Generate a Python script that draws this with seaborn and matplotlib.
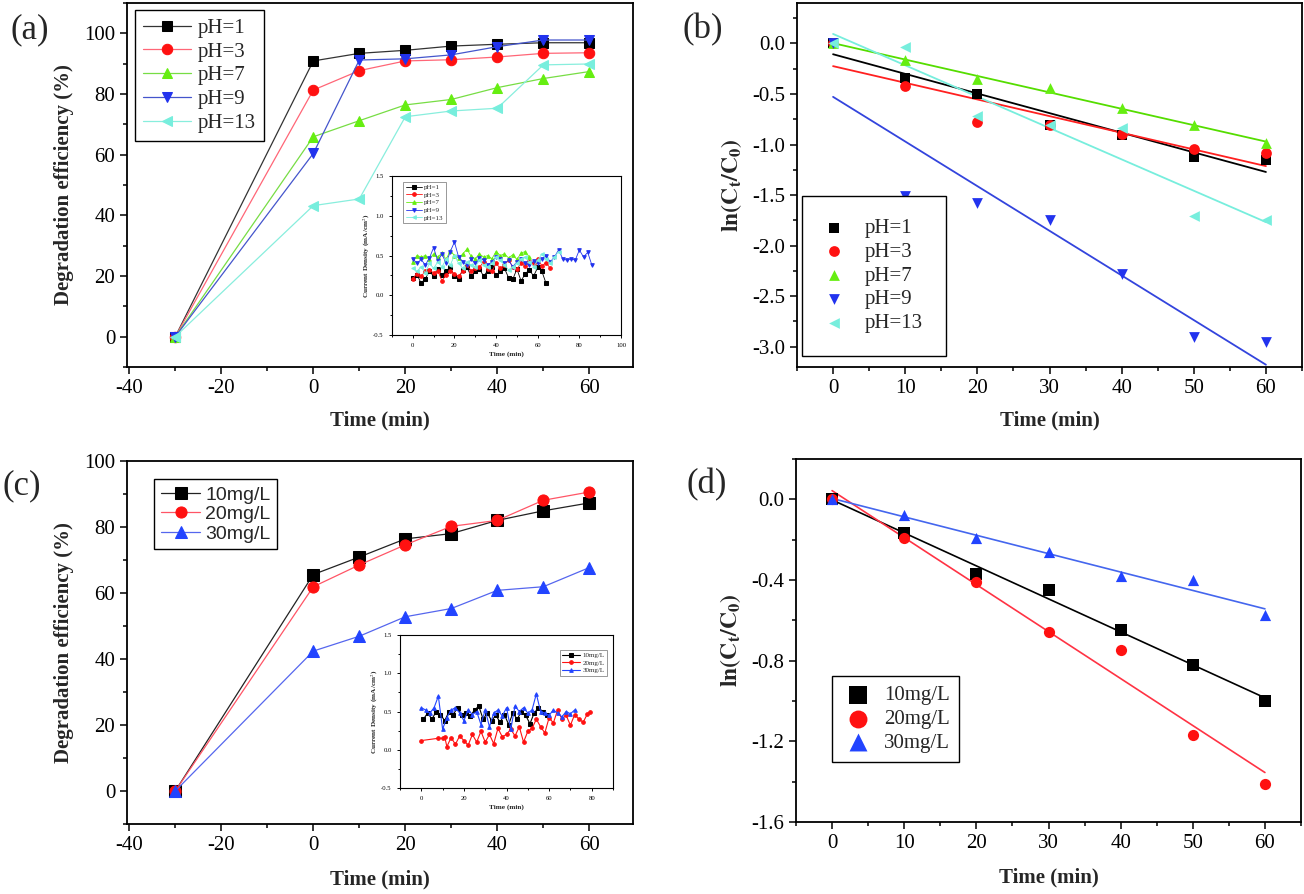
import numpy as np
import matplotlib
matplotlib.use("Agg")
import matplotlib.pyplot as plt
import seaborn as sns
from matplotlib.ticker import MultipleLocator

sns.set_style("ticks")
plt.rcParams["font.family"] = ["Liberation Serif", "DejaVu Serif"]
plt.rcParams["mathtext.fontset"] = "stix"
plt.rcParams["axes.unicode_minus"] = False

# ---- data ----
time_deg = [-30, 0, 10, 20, 30, 40, 50, 60]
time_kin = [0, 10, 20, 30, 40, 50, 60]

ph_labels = ["pH=1", "pH=3", "pH=7", "pH=9", "pH=13"]
deg_ph1 = [0, 90.9, 93.4, 94.4, 95.8, 96.4, 96.9, 96.9]
deg_ph3 = [0, 81.3, 87.7, 90.9, 91.3, 92.2, 93.4, 93.6]
deg_ph7 = [0, 65.9, 71.2, 76.4, 78.2, 82.1, 85.1, 87.4]
deg_ph9 = [0, 60.4, 91.2, 91.6, 92.9, 95.6, 97.8, 97.8]
deg_ph13 = [0, 43.2, 45.4, 72.5, 74.4, 75.3, 89.6, 89.9]

ln_ph1 = [0, -0.337, -0.496, -0.807, -0.91, -1.125, -1.148]
ln_ph3 = [0, -0.42, -0.777, -0.81, -0.90, -1.042, -1.082]
ln_ph7 = [0, -0.162, -0.354, -0.437, -0.635, -0.81, -0.989]
ln_ph9 = [0, -1.505, -1.578, -1.75, -2.28, -2.90, -2.957]
ln_ph13 = [0, -0.04, -0.718, -0.81, -0.834, -1.71, -1.743]

conc_labels = ["10mg/L", "20mg/L", "30mg/L"]
deg_10 = [0, 65.6, 70.9, 76.4, 78.0, 82.0, 84.9, 87.3]
deg_20 = [0, 61.9, 68.5, 74.6, 80.2, 82.0, 88.1, 90.6]
deg_30 = [0, 42.4, 46.9, 52.8, 55.3, 60.8, 61.9, 67.7]

ln_10 = [0, -0.167, -0.37, -0.45, -0.65, -0.82, -0.998]
ln_20 = [0, -0.192, -0.41, -0.66, -0.749, -1.169, -1.41]
ln_30 = [0, -0.08, -0.19, -0.26, -0.38, -0.40, -0.575]

# inset current density (mA/cm2) vs time (min)
cd_t_ph1 = np.arange(0, 65, 2)
cd_ph1 = [0.22, 0.26, 0.15, 0.21, 0.30, 0.24, 0.33, 0.25, 0.31, 0.35, 0.24, 0.21, 0.32, 0.35, 0.24, 0.30, 0.33,
          0.24, 0.31, 0.35, 0.25, 0.30, 0.34, 0.22, 0.20, 0.33, 0.18, 0.27, 0.32, 0.24, 0.35, 0.30, 0.15]
cd_t_ph3 = np.arange(0, 67, 2)
cd_ph3 = [0.21, 0.27, 0.24, 0.30, 0.32, 0.28, 0.31, 0.18, 0.26, 0.30, 0.27, 0.24, 0.31, 0.38, 0.31, 0.34, 0.35,
          0.42, 0.33, 0.30, 0.40, 0.34, 0.38, 0.44, 0.36, 0.33, 0.40, 0.37, 0.43, 0.40, 0.46, 0.37, 0.41, 0.34]
cd_t_ph7 = np.arange(0, 57, 2)
cd_ph7 = [0.42, 0.50, 0.48, 0.50, 0.46, 0.52, 0.48, 0.53, 0.45, 0.56, 0.50, 0.47, 0.52, 0.58, 0.49, 0.46, 0.52,
          0.48, 0.50, 0.46, 0.55, 0.50, 0.52, 0.47, 0.51, 0.45, 0.53, 0.55, 0.48]
cd_t_ph9 = np.arange(0, 87, 2)
cd_ph9 = [0.46, 0.40, 0.45, 0.38, 0.47, 0.60, 0.43, 0.52, 0.40, 0.55, 0.67, 0.48, 0.42, 0.38, 0.45, 0.40, 0.47,
          0.44, 0.38, 0.42, 0.48, 0.45, 0.40, 0.44, 0.36, 0.42, 0.46, 0.40, 0.38, 0.43, 0.40, 0.46, 0.50, 0.42,
          0.48, 0.57, 0.46, 0.44, 0.46, 0.44, 0.57, 0.48, 0.54, 0.38]
cd_t_ph13 = np.arange(0, 71, 2)
cd_ph13 = [0.34, 0.30, 0.36, 0.28, 0.40, 0.34, 0.42, 0.36, 0.45, 0.38, 0.50, 0.40, 0.34, 0.42, 0.38, 0.36, 0.44,
           0.38, 0.36, 0.40, 0.48, 0.44, 0.38, 0.32, 0.36, 0.40, 0.46, 0.48, 0.42, 0.36, 0.44, 0.52, 0.46, 0.40,
           0.48, 0.55]

cd_t_10 = np.arange(1, 60, 2)
cd_10 = [0.40, 0.48, 0.40, 0.50, 0.46, 0.38, 0.50, 0.46, 0.55, 0.45, 0.48, 0.44, 0.52, 0.57, 0.40, 0.48, 0.38,
         0.45, 0.36, 0.46, 0.33, 0.48, 0.40, 0.50, 0.45, 0.34, 0.48, 0.55, 0.50, 0.46]
cd_t_20 = [0, 8, 10, 11, 12, 14, 16, 18, 20, 22, 24, 26, 28, 30, 32, 34, 36, 38, 40, 42, 44, 46, 48, 50, 52, 54,
           56, 58, 60, 62, 64, 66, 68, 70, 72, 74, 76, 78, 79]
cd_20 = [0.12, 0.15, 0.15, 0.17, 0.04, 0.16, 0.07, 0.18, 0.12, 0.06, 0.20, 0.10, 0.24, 0.10, 0.20, 0.08, 0.28,
         0.17, 0.20, 0.27, 0.18, 0.30, 0.10, 0.24, 0.28, 0.40, 0.30, 0.22, 0.42, 0.35, 0.52, 0.40, 0.45, 0.32,
         0.46, 0.40, 0.36, 0.47, 0.49]
cd_t_30 = np.arange(0, 73, 2)
cd_30 = [0.55, 0.52, 0.48, 0.55, 0.70, 0.27, 0.42, 0.52, 0.55, 0.48, 0.38, 0.52, 0.46, 0.50, 0.33, 0.52, 0.30,
         0.48, 0.52, 0.44, 0.55, 0.27, 0.57, 0.50, 0.55, 0.48, 0.52, 0.73, 0.50, 0.48, 0.45, 0.52, 0.48, 0.43,
         0.50, 0.47, 0.52]

# ---- styles ----
ph_line_colors = ["#333333", "#ff6677", "#77dd44", "#4455cc", "#88eedd"]
ph_mark_colors = ["#000000", "#ff1111", "#66ee11", "#2233ee", "#77eedd"]
ph_fit_colors = ["#000000", "#ff2020", "#55dd00", "#3344dd", "#77eedd"]
ph_markers = ["s", "o", "^", "v", "<"]
conc_line_colors = ["#222222", "#ff5566", "#5566ee"]
conc_mark_colors = ["#000000", "#ff1111", "#2244ff"]
conc_markers = ["s", "o", "^"]

W, H = 1304, 894
fig = plt.figure(figsize=(W / 100, H / 100), dpi=100)


def px_axes(left, top, right, bottom):
    return fig.add_axes([left / W, 1 - bottom / H, (right - left) / W, (bottom - top) / H])


def style(ax, size=15, lw=1.3):
    for s in ax.spines.values():
        s.set_linewidth(lw)
        s.set_color("black")
        s.set_visible(True)
    ax.tick_params(which="both", direction="out", top=False, right=False,
                   labelsize=size, width=lw * 0.85, colors="black")
    ax.tick_params(which="major", length=5 if size > 8 else 2.5)
    ax.tick_params(which="minor", length=3 if size > 8 else 1.5)
    ax.grid(False)


def box_legend(ax, **kw):
    leg = ax.legend(frameon=True, fancybox=False, edgecolor="black", framealpha=1,
                    borderaxespad=0, **kw)
    leg.get_frame().set_linewidth(1.0)
    return leg


label_font = dict(fontsize=15, fontweight="bold")

# ---------------- (a) ----------------
ax_a = px_axes(127, 3, 633, 367)
deg_ph = [deg_ph1, deg_ph3, deg_ph7, deg_ph9, deg_ph13]
for vals, lc, mc, mk, lab in zip(deg_ph, ph_line_colors, ph_mark_colors, ph_markers, ph_labels):
    sns.lineplot(x=time_deg, y=vals, ax=ax_a, color=lc, lw=0.9, marker=mk, markersize=7.5,
                 markerfacecolor=mc, markeredgecolor=mc, label=lab)
ax_a.set_xlim(-40.5, 69.5)
ax_a.set_ylim(-10, 110)
ax_a.xaxis.set_major_locator(MultipleLocator(20))
ax_a.xaxis.set_minor_locator(MultipleLocator(10))
ax_a.yaxis.set_major_locator(MultipleLocator(20))
ax_a.yaxis.set_minor_locator(MultipleLocator(10))
style(ax_a)
ax_a.set_xlabel("Time (min)", **label_font)
ax_a.set_ylabel("Degradation efficiency (%)", **label_font)
ax_a.xaxis.set_label_coords(0.5, -0.12)
ax_a.yaxis.set_label_coords(-0.105, 0.5)
box_legend(ax_a, loc="upper left", bbox_to_anchor=(0.016, 0.981), fontsize=15,
           handlelength=2.3, labelspacing=0.2, borderpad=0.4, handletextpad=0.3)

# inset (a)
ins_a = px_axes(392, 176, 621, 335)
cd_ph_t = [cd_t_ph1, cd_t_ph3, cd_t_ph7, cd_t_ph9, cd_t_ph13]
cd_ph = [cd_ph1, cd_ph3, cd_ph7, cd_ph9, cd_ph13]
for t, vals, mc, mk, lab in zip(cd_ph_t, cd_ph, ph_mark_colors, ph_markers, ph_labels):
    sns.lineplot(x=t, y=vals, ax=ins_a, color=mc, lw=0.6, marker=mk, markersize=2.6,
                 markerfacecolor=mc, markeredgecolor=mc, label=lab)
ins_a.set_xlim(-10, 100)
ins_a.set_ylim(-0.5, 1.5)
ins_a.xaxis.set_major_locator(MultipleLocator(20))
ins_a.xaxis.set_minor_locator(MultipleLocator(10))
ins_a.yaxis.set_major_locator(MultipleLocator(0.5))
ins_a.yaxis.set_minor_locator(MultipleLocator(0.25))
style(ins_a, size=4.8, lw=0.8)
ins_a.set_xlabel("Time (min)", fontsize=5.2, fontweight="bold", labelpad=2)
ins_a.set_ylabel("Current Density (mA/cm$^2$)", fontsize=5.2, fontweight="bold", labelpad=1)
lg = ins_a.legend(loc="upper left", bbox_to_anchor=(0.05, 0.96), fontsize=5, frameon=True,
                  fancybox=False, edgecolor="#888888", framealpha=1, handlelength=2.4,
                  labelspacing=0.25, borderpad=0.3, handletextpad=0.3, borderaxespad=0)
lg.get_frame().set_linewidth(0.6)

# ---------------- (b) ----------------
ax_b = px_axes(797, 3, 1302, 367)
ln_ph = [ln_ph1, ln_ph3, ln_ph7, ln_ph9, ln_ph13]
for vals, fc in zip(ln_ph, ph_fit_colors):
    sns.regplot(x=time_kin, y=vals, ax=ax_b, scatter=False, ci=None, color=fc, line_kws={"lw": 1.3})
for vals, mc, mk, lab in zip(ln_ph, ph_mark_colors, ph_markers, ph_labels):
    sns.scatterplot(x=time_kin, y=vals, ax=ax_b, color=mc, marker=mk, s=60, edgecolor=mc,
                    linewidth=0, label=lab, zorder=3)
ax_b.set_xlim(-5, 65)
ax_b.set_ylim(-3.2, 0.4)
ax_b.xaxis.set_major_locator(MultipleLocator(10))
ax_b.xaxis.set_minor_locator(MultipleLocator(5))
ax_b.yaxis.set_major_locator(MultipleLocator(0.5))
ax_b.yaxis.set_minor_locator(MultipleLocator(0.25))
style(ax_b)
ax_b.set_xlabel("Time (min)", **label_font)
ax_b.set_ylabel(r"$\mathbf{ln(C_t/C_0)}$", fontsize=17)
ax_b.xaxis.set_label_coords(0.5, -0.12)
ax_b.yaxis.set_label_coords(-0.105, 0.5)
box_legend(ax_b, loc="lower left", bbox_to_anchor=(0.01, 0.03), fontsize=15,
           handlelength=0.9, labelspacing=0.2, borderpad=1.1, handletextpad=1.0)

# ---------------- (c) ----------------
ax_c = px_axes(127, 461, 633, 824)
deg_conc = [deg_10, deg_20, deg_30]
for vals, lc, mc, mk, lab in zip(deg_conc, conc_line_colors, conc_mark_colors, conc_markers, conc_labels):
    sns.lineplot(x=time_deg, y=vals, ax=ax_c, color=lc, lw=0.9, marker=mk, markersize=8,
                 markerfacecolor=mc, markeredgecolor=mc, label=lab)
ax_c.set_xlim(-40.5, 69.5)
ax_c.set_ylim(-10, 100)
ax_c.xaxis.set_major_locator(MultipleLocator(20))
ax_c.xaxis.set_minor_locator(MultipleLocator(10))
ax_c.yaxis.set_major_locator(MultipleLocator(20))
ax_c.yaxis.set_minor_locator(MultipleLocator(10))
style(ax_c)
ax_c.set_xlabel("Time (min)", **label_font)
ax_c.set_ylabel("Degradation efficiency (%)", **label_font)
ax_c.xaxis.set_label_coords(0.5, -0.125)
ax_c.yaxis.set_label_coords(-0.105, 0.5)
box_legend(ax_c, loc="upper left", bbox_to_anchor=(0.053, 0.95),
           prop={"family": "Liberation Sans", "size": 14}, handlelength=2.05,
           labelspacing=0.1, borderpad=0.35, handletextpad=0.25)

# inset (c)
ins_c = px_axes(400, 635, 613, 788)
cd_conc_t = [cd_t_10, cd_t_20, cd_t_30]
cd_conc = [cd_10, cd_20, cd_30]
for t, vals, mc, mk, lab in zip(cd_conc_t, cd_conc, conc_mark_colors, conc_markers, conc_labels):
    sns.lineplot(x=t, y=vals, ax=ins_c, color=mc, lw=0.8, marker=mk, markersize=2.6,
                 markerfacecolor=mc, markeredgecolor=mc, label=lab)
ins_c.set_xlim(-10, 90)
ins_c.set_ylim(-0.5, 1.5)
ins_c.xaxis.set_major_locator(MultipleLocator(20))
ins_c.xaxis.set_minor_locator(MultipleLocator(10))
ins_c.yaxis.set_major_locator(MultipleLocator(0.5))
ins_c.yaxis.set_minor_locator(MultipleLocator(0.25))
style(ins_c, size=4.8, lw=0.8)
ins_c.set_xlabel("Time (min)", fontsize=5.2, fontweight="bold", labelpad=2)
ins_c.set_ylabel("Current Density (mA/cm$^2$)", fontsize=5.2, fontweight="bold", labelpad=1)
lg = ins_c.legend(loc="upper right", bbox_to_anchor=(0.97, 0.9), fontsize=5, frameon=True,
                  fancybox=False, edgecolor="#888888", framealpha=1, handlelength=2.6,
                  labelspacing=0.25, borderpad=0.3, handletextpad=0.3, borderaxespad=0)
lg.get_frame().set_linewidth(0.6)

# ---------------- (d) ----------------
ax_d = px_axes(796, 459, 1301, 822)
ln_conc = [ln_10, ln_20, ln_30]
for vals, fc in zip(ln_conc, ["#000000", "#ff3344", "#4466ee"]):
    sns.regplot(x=time_kin, y=vals, ax=ax_d, scatter=False, ci=None, color=fc, line_kws={"lw": 1.2})
for vals, mc, mk, lab in zip(ln_conc, conc_mark_colors, conc_markers, conc_labels):
    sns.scatterplot(x=time_kin, y=vals, ax=ax_d, color=mc, marker=mk, s=65, edgecolor=mc,
                    linewidth=0, label=lab, zorder=3)
ax_d.set_xlim(-5, 65)
ax_d.set_ylim(-1.6, 0.2)
ax_d.xaxis.set_major_locator(MultipleLocator(10))
ax_d.xaxis.set_minor_locator(MultipleLocator(5))
ax_d.yaxis.set_major_locator(MultipleLocator(0.4))
ax_d.yaxis.set_minor_locator(MultipleLocator(0.2))
style(ax_d)
ax_d.set_xlabel("Time (min)", **label_font)
ax_d.set_ylabel(r"$\mathbf{ln(C_t/C_0)}$", fontsize=17)
ax_d.xaxis.set_label_coords(0.5, -0.125)
ax_d.yaxis.set_label_coords(-0.105, 0.5)
box_legend(ax_d, loc="lower left", bbox_to_anchor=(0.071, 0.165), fontsize=15,
           handlelength=1.6, labelspacing=0.2, borderpad=0.45, handletextpad=0.45, markerscale=1.6)

# panel letters
for txt, x, y in [("(a)", 10, 30), ("(b)", 682, 30), ("(c)", 2, 486), ("(d)", 686, 485)]:
    fig.text(x / W, 1 - y / H, txt, fontsize=25, ha="left", va="center")

fig.savefig("out.png", dpi=100)
